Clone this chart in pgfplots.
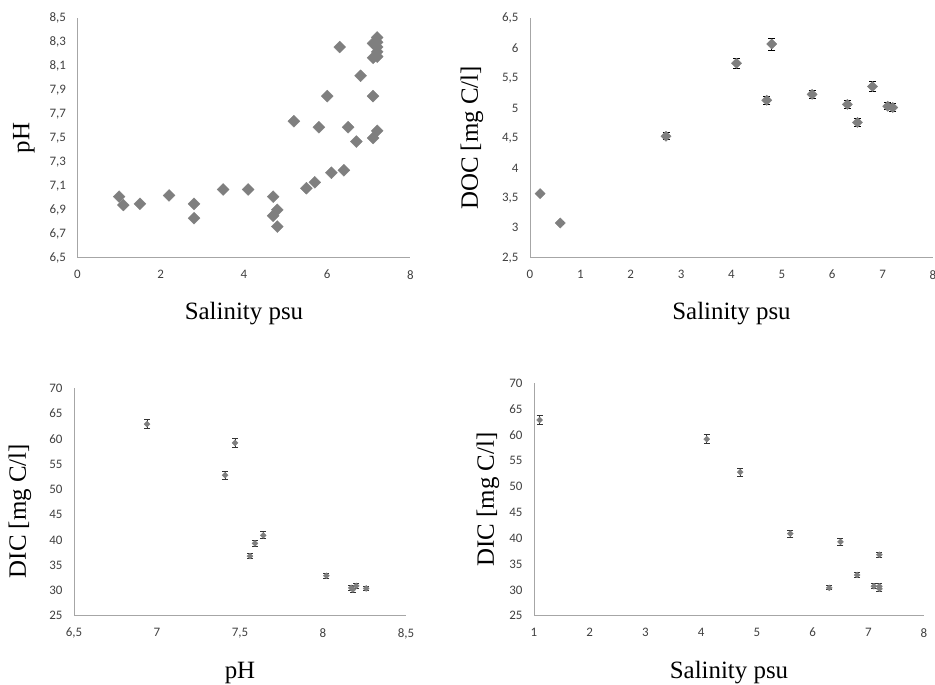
\documentclass[border=0pt]{standalone}
\usepackage{fontspec}
\setmainfont{Liberation Serif}
\newfontfamily\tickfont{Carlito}
\usepackage{pgfplots}
\usepackage{pgfplotstable}
\pgfplotsset{compat=1.18}
\definecolor{axgray}{HTML}{A6A6A6}
\definecolor{mk}{HTML}{7F7F7F}
\definecolor{tk}{HTML}{404040}
\newcommand{\tkf}{\tickfont\fontsize{13}{15}\selectfont}

\pgfplotstableread{
x y
1.0 7.01
1.1 6.94
1.5 6.95
2.2 7.02
2.8 6.95
2.8 6.83
3.5 7.07
4.1 7.07
4.7 7.01
4.7 6.85
4.8 6.90
4.8 6.76
5.5 7.08
5.7 7.13
6.1 7.21
6.4 7.23
5.2 7.64
5.8 7.59
6.5 7.59
6.7 7.47
7.1 7.50
7.2 7.56
6.0 7.85
7.1 7.85
6.8 8.02
6.3 8.26
7.1 8.17
7.2 8.18
7.1 8.29
7.2 8.34
7.2 8.30
7.2 8.26
7.2 8.22
}\phsal

\pgfplotstableread{
x y e
0.2 3.57 0.02
0.6 3.08 0.02
2.7 4.53 0.06
4.1 5.75 0.08
4.8 6.07 0.10
4.7 5.13 0.07
5.6 5.23 0.07
6.3 5.06 0.07
6.5 4.76 0.06
6.8 5.36 0.08
7.1 5.03 0.06
7.2 5.01 0.06
}\docsal

\pgfplotstableread{
x y e
6.94 62.9 0.9
7.47 59.2 0.9
7.41 52.8 0.8
7.64 40.9 0.7
7.59 39.3 0.6
7.56 36.8 0.5
8.02 32.9 0.5
8.17 30.5 0.5
8.20 30.9 0.5
8.18 30.2 0.5
8.26 30.4 0.4
}\dicph

\pgfplotstableread{
x y e
1.1 62.9 0.9
4.1 59.2 0.9
4.7 52.8 0.8
5.6 40.9 0.7
6.5 39.3 0.6
7.2 36.8 0.5
6.8 32.9 0.5
6.3 30.4 0.4
7.1 30.7 0.5
7.2 30.7 0.5
7.2 30.2 0.5
}\dicsal

\pgfplotsset{
  base/.style={
    scale only axis,
    axis x line=bottom, axis y line=left,
    axis line style={-, axgray, line width=0.9pt},
    major tick length=0pt,
    /pgf/number format/assume math mode=true,
    /pgf/number format/use comma,
    /pgf/number format/fixed,
    /pgf/number format/precision=1,
    label style={font=\fontsize{25}{29}\selectfont},
    xticklabel style={font=\tkf, text=tk, yshift=-9bp},
    yticklabel style={font=\tkf, text=tk, xshift=-8bp},
    x label style={at={(axis description cs:0.5,0)}, anchor=center},
    clip=false,
  },
}

\begin{document}
\begin{tikzpicture}
\useasboundingbox (0,0) rectangle (935bp,685bp);

% Panel 1
\begin{axis}[base, at={(77.5bp,427.3bp)}, anchor=south west,
  width=333bp, height=239.4bp,
  xmin=0, xmax=8, ymin=6.5, ymax=8.5,
  xtick={0,2,4,6,8}, ytick={6.5,6.7,...,8.55},
  xlabel={Salinity psu}, ylabel={pH},
  x label style={yshift=-56bp},
  y label style={at={(axis description cs:-0.161,0.5)}, anchor=center},
]
\addplot[only marks, mark=square*, mark size=4.2bp, mark options={rotate=45, fill=mk, draw=mk}] table[x=x,y=y] {\phsal};
\end{axis}

% Panel 2
\begin{axis}[base, at={(530bp,427.3bp)}, anchor=south west,
  width=403bp, height=239.4bp,
  xmin=0, xmax=8, ymin=2.5, ymax=6.5,
  xtick={0,1,...,8}, ytick={2.5,3,...,6.55},
  xlabel={Salinity psu}, ylabel={DOC [mg C/l]},
  x label style={yshift=-56bp},
  y label style={at={(axis description cs:-0.144,0.5)}, anchor=center},
]
\addplot[only marks, mark=square*, mark size=3.6bp, mark options={rotate=45, fill=mk, draw=mk},
  error bars/.cd, y dir=both, y explicit,
  error bar style={black, line width=0.9pt},
  error mark options={rotate=90, mark size=3.5bp, black, line width=0.9pt}]
  table[x=x,y=y,y error=e] {\docsal};
\end{axis}

% Panel 3
\begin{axis}[base, at={(74bp,69.3bp)}, anchor=south west,
  width=332bp, height=227.4bp,
  xmin=6.5, xmax=8.5, ymin=25, ymax=70,
  xtick={6.5,7,7.5,8,8.5}, ytick={25,30,...,70},
  xlabel={pH}, ylabel={DIC [mg C/l]},
  x label style={yshift=-57bp},
  y label style={at={(axis description cs:-0.163,0.46)}, anchor=center},
]
\addplot[only marks, mark=square*, mark size=2.1bp, mark options={rotate=45, fill=mk, draw=mk},
  error bars/.cd, y dir=both, y explicit,
  error bar style={black!80, line width=0.8pt},
  error mark options={rotate=90, mark size=3bp, black!80, line width=0.8pt}]
  table[x=x,y=y,y error=e] {\dicph};
\end{axis}

% Panel 4
\begin{axis}[base, at={(534bp,69.3bp)}, anchor=south west,
  width=390bp, height=232.4bp,
  xmin=1, xmax=8, ymin=25, ymax=70,
  xtick={1,...,8}, ytick={25,30,...,70},
  xlabel={Salinity psu}, ylabel={DIC [mg C/l]},
  x label style={yshift=-57bp},
  y label style={at={(axis description cs:-0.118,0.5)}, anchor=center},
]
\addplot[only marks, mark=square*, mark size=2.1bp, mark options={rotate=45, fill=mk, draw=mk},
  error bars/.cd, y dir=both, y explicit,
  error bar style={black!80, line width=0.8pt},
  error mark options={rotate=90, mark size=3bp, black!80, line width=0.8pt}]
  table[x=x,y=y,y error=e] {\dicsal};
\end{axis}
\end{tikzpicture}
\end{document}
